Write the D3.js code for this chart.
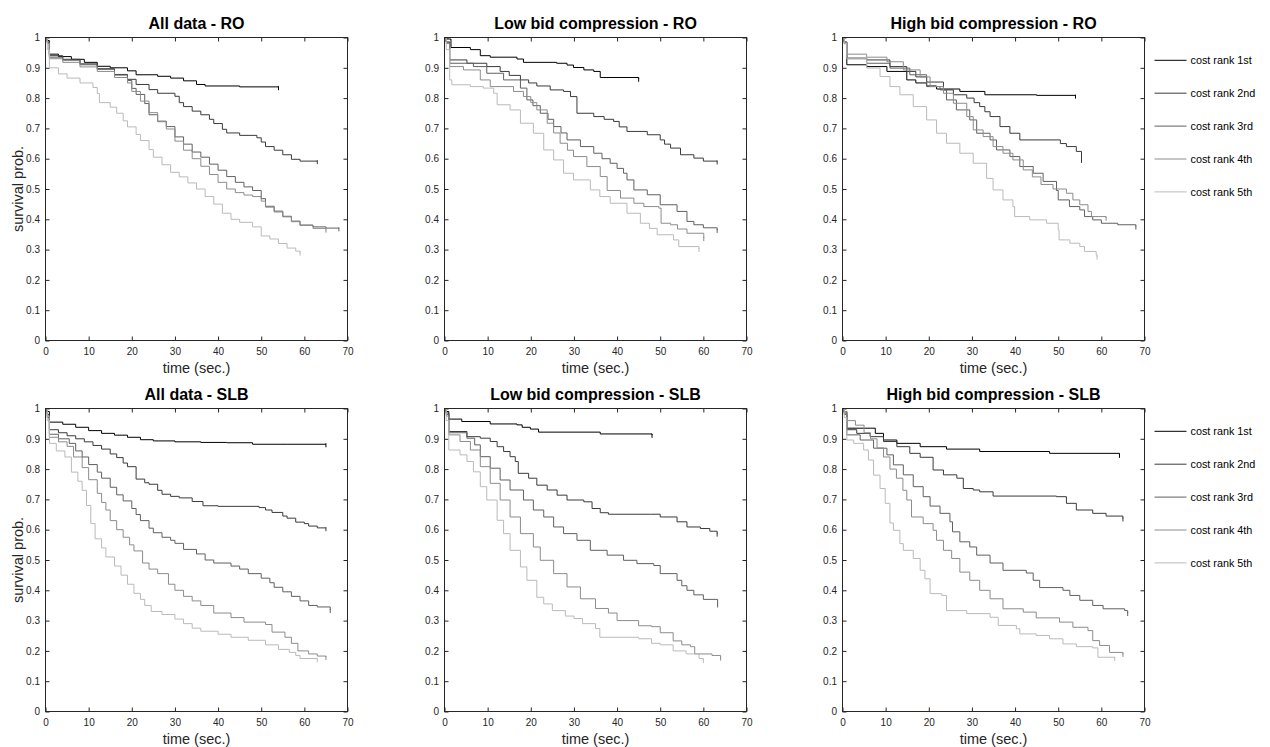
<!DOCTYPE html>
<html>
<head>
<meta charset="utf-8">
<script src="https://cdn.jsdelivr.net/npm/d3@7"></script>
<style>
    body { margin: 0; background: #fff; }
    svg { display: block; }
    text { font-family: "Liberation Sans", Arial, Helvetica, sans-serif; }
</style>
</head>
<body>
<div id="chart"></div>
<script>

// panel titles, legend labels and grey levels of the five cost ranks
const panelTitles = ["All data - RO", "Low bid compression - RO", "High bid compression - RO",
                     "All data - SLB", "Low bid compression - SLB", "High bid compression - SLB"];
const rankLabels = ["cost rank 1st", "cost rank 2nd", "cost rank 3rd", "cost rank 4th", "cost rank 5th"];
const rankColors = ["#000000", "#3a3a3a", "#606060", "#8c8c8c", "#bababa"];

const xTicks = [0, 10, 20, 30, 40, 50, 60, 70];
const yTicks = [0, 0.1, 0.2, 0.3, 0.4, 0.5, 0.6, 0.7, 0.8, 0.9, 1];

// Kaplan-Meier curves, [time, survival] at each step
const allDataRO = [
    [[0,1],[0.4,0.99],[0.9,0.945],[3,0.937],[6,0.928],[9,0.918],[12,0.905],[15,0.9],[19,0.89],[21,0.877],[26,0.872],[29,0.866],[32,0.857],[35,0.845],[37,0.84],[45,0.837],[54,0.836]],
    [[0,1],[0.4,0.985],[0.9,0.94],[4,0.928],[8,0.913],[12,0.897],[16,0.878],[19,0.862],[21,0.845],[24,0.828],[26,0.816],[30,0.806],[31,0.785],[32,0.772],[34,0.757],[36,0.745],[38,0.73],[39,0.716],[41,0.697],[42,0.685],[45,0.677],[49,0.669],[50,0.655],[51,0.64],[53,0.628],[55,0.613],[57,0.598],[59,0.592],[63,0.592]],
    [[0,1],[0.4,0.985],[0.9,0.935],[4,0.925],[8,0.91],[12,0.895],[16,0.876],[19,0.858],[20,0.832],[21,0.812],[23,0.782],[24,0.745],[26,0.724],[28,0.706],[30,0.672],[32,0.648],[34,0.622],[36,0.605],[38,0.582],[40,0.562],[42,0.541],[44,0.522],[46,0.507],[48,0.495],[50,0.468],[51,0.443],[53,0.427],[55,0.41],[57,0.394],[59,0.381],[62,0.375],[65,0.371],[68,0.37]],
    [[0,1],[0.4,0.98],[0.9,0.93],[4,0.918],[8,0.903],[12,0.888],[16,0.868],[19,0.85],[20,0.822],[22,0.79],[24,0.752],[26,0.722],[28,0.698],[30,0.658],[32,0.628],[34,0.6],[36,0.575],[38,0.548],[40,0.522],[42,0.5],[44,0.488],[46,0.48],[48,0.475],[50,0.46],[51,0.44],[53,0.424],[55,0.408],[57,0.392],[59,0.38],[62,0.37],[65,0.366]],
    [[0,1],[0.4,0.96],[0.9,0.9],[3,0.88],[5,0.866],[8,0.85],[11,0.835],[12,0.815],[12.5,0.785],[15,0.77],[16.5,0.75],[18,0.725],[19,0.705],[21,0.68],[22,0.66],[24,0.63],[25,0.605],[27,0.58],[29,0.555],[31,0.54],[33,0.52],[35,0.5],[37,0.475],[39,0.45],[41,0.42],[43,0.4],[45,0.39],[48,0.375],[50,0.345],[52,0.335],[54,0.32],[56,0.305],[58,0.295],[59,0.29]]
];

const lowBidRO = [
    [[0,1],[0.4,0.995],[1.5,0.967],[6,0.96],[8.3,0.94],[10.6,0.935],[16.8,0.929],[18.3,0.918],[26,0.915],[28.4,0.909],[29.9,0.901],[32.3,0.893],[34.6,0.888],[36.1,0.868],[45,0.864]],
    [[0,1],[0.4,0.985],[1.2,0.926],[5.2,0.915],[9.8,0.904],[12.9,0.888],[15,0.875],[17.6,0.86],[19.5,0.85],[21.4,0.84],[24.5,0.827],[27.6,0.822],[29.2,0.805],[30.7,0.75],[34.6,0.739],[37,0.73],[39.2,0.723],[40.5,0.705],[42.3,0.69],[47,0.679],[50,0.662],[51,0.648],[52.4,0.635],[54.7,0.613],[57.8,0.602],[60,0.592],[63.2,0.591]],
    [[0,1],[0.4,0.985],[1.2,0.915],[6.7,0.904],[9.8,0.882],[13.7,0.86],[17.6,0.833],[19.1,0.794],[20.5,0.775],[22.2,0.75],[24,0.73],[25.3,0.706],[27,0.685],[28.4,0.662],[31.5,0.64],[34.6,0.618],[36.5,0.6],[38.4,0.585],[40,0.568],[41.5,0.552],[42.3,0.53],[43.9,0.497],[47,0.481],[50,0.448],[53.9,0.426],[56.2,0.393],[57.8,0.382],[60,0.372],[63.2,0.365]],
    [[0,1],[0.4,0.98],[1.2,0.904],[4.4,0.893],[8.3,0.86],[10.6,0.838],[16,0.822],[18.3,0.805],[20,0.785],[21.4,0.761],[23.8,0.717],[25.3,0.685],[26.8,0.651],[28.5,0.628],[29.9,0.607],[33,0.574],[36.1,0.541],[37.7,0.495],[40.8,0.47],[43.9,0.453],[46.2,0.442],[49.7,0.437],[50.2,0.387],[52.4,0.382],[54,0.368],[56.2,0.354],[60.1,0.338]],
    [[0,1],[0.4,0.96],[1.2,0.86],[1.7,0.844],[6,0.838],[9,0.833],[11.4,0.816],[12.2,0.778],[15.2,0.761],[17.6,0.717],[20.6,0.684],[23,0.629],[25.3,0.596],[27.6,0.552],[29.9,0.53],[33.8,0.497],[36,0.475],[38.4,0.453],[42.3,0.42],[45.4,0.387],[47.5,0.37],[49.3,0.349],[53.1,0.332],[54.3,0.31],[59,0.302]]
];

const highBidRO = [
    [[0,1],[0.4,0.98],[1,0.91],[5.6,0.904],[10.3,0.888],[14.9,0.86],[17,0.85],[19.5,0.84],[21.8,0.83],[27.2,0.822],[33,0.811],[45,0.809],[54,0.808]],
    [[0,1],[0.4,0.985],[1,0.932],[5.6,0.926],[11,0.904],[14.9,0.888],[17,0.87],[19.5,0.853],[23.4,0.827],[25.7,0.811],[28.8,0.8],[30.5,0.785],[31.8,0.772],[33,0.755],[34.2,0.739],[36.5,0.706],[38.8,0.684],[41.1,0.662],[48.8,0.662],[50.5,0.65],[51.9,0.64],[54.2,0.624],[55.4,0.596]],
    [[0,1],[0.4,0.985],[1,0.93],[5.6,0.915],[11,0.899],[15.6,0.877],[19.5,0.838],[22.6,0.827],[24.1,0.794],[26.4,0.761],[29.5,0.728],[31.1,0.684],[34.2,0.662],[35.7,0.629],[38.8,0.607],[41.1,0.574],[44.2,0.552],[46.5,0.525],[49.6,0.495],[50,0.464],[52.6,0.442],[55,0.431],[56.1,0.409],[58,0.398],[60,0.387],[63.8,0.382],[68,0.376]],
    [[0,1],[0.4,0.985],[1,0.945],[5.6,0.935],[10.3,0.92],[14.1,0.893],[18,0.87],[20.3,0.838],[23.4,0.816],[25.7,0.783],[28.8,0.739],[30.3,0.695],[32.6,0.673],[34.9,0.64],[37.2,0.618],[39.5,0.596],[41.9,0.563],[44,0.54],[46,0.515],[48.8,0.5],[51.9,0.486],[53.4,0.464],[55,0.448],[56.9,0.426],[57.7,0.409],[61.1,0.405]],
    [[0,1],[0.4,0.98],[1,0.93],[5.6,0.899],[8.7,0.871],[11,0.838],[13.3,0.811],[16.4,0.772],[19.5,0.728],[21.8,0.684],[24.1,0.651],[27.2,0.618],[30.3,0.585],[33.4,0.535],[34.9,0.497],[37.2,0.464],[39.5,0.442],[39.9,0.409],[43.4,0.398],[47.3,0.387],[50,0.365],[50.2,0.332],[52.7,0.321],[55,0.31],[56.1,0.294],[58.8,0.283],[59,0.277]]
];

const allDataSLB = [
    [[0,1],[0.4,0.99],[0.9,0.955],[4,0.948],[7,0.938],[10,0.927],[13,0.918],[16,0.912],[19,0.905],[22,0.897],[25,0.893],[30,0.89],[36,0.888],[42,0.887],[48,0.882],[56,0.882],[65,0.882]],
    [[0,1],[0.4,0.98],[0.9,0.93],[3,0.92],[5,0.91],[7,0.9],[9,0.89],[11,0.878],[13,0.866],[15,0.85],[16.5,0.838],[18,0.82],[19,0.808],[21,0.767],[23,0.755],[24,0.75],[26,0.73],[27,0.717],[29,0.71],[31,0.705],[34,0.693],[36.5,0.679],[40,0.677],[49.5,0.673],[51,0.665],[52.5,0.657],[55,0.645],[56,0.638],[58,0.625],[60,0.62],[61,0.612],[63,0.606],[65,0.605]],
    [[0,1],[0.4,0.97],[0.9,0.915],[3,0.9],[5.5,0.885],[7,0.86],[8.5,0.84],[10,0.815],[12,0.79],[13,0.77],[15,0.74],[16.5,0.715],[18,0.695],[20,0.67],[21,0.65],[22,0.63],[24,0.605],[25,0.59],[27,0.575],[29,0.565],[30,0.555],[32,0.535],[35,0.52],[37,0.5],[39,0.49],[43,0.48],[45,0.47],[47,0.455],[50,0.44],[52,0.425],[53,0.41],[55,0.395],[57,0.38],[59,0.365],[61,0.35],[63,0.345],[66,0.335]],
    [[0,1],[0.4,0.975],[0.9,0.905],[3,0.89],[5,0.875],[6.5,0.84],[8.5,0.805],[10,0.765],[12,0.72],[13,0.69],[14,0.665],[15,0.63],[16.5,0.6],[18,0.575],[19.5,0.55],[20.5,0.53],[22.5,0.49],[24,0.47],[26,0.455],[28.5,0.42],[30,0.4],[32,0.38],[34,0.365],[36,0.35],[39,0.325],[43,0.31],[46,0.295],[51,0.287],[52.5,0.262],[55.5,0.245],[57,0.225],[58.5,0.2],[61,0.19],[63,0.183],[65,0.18]],
    [[0,1],[0.4,0.96],[0.9,0.885],[2.5,0.86],[4.5,0.84],[6,0.79],[7.5,0.76],[8.5,0.73],[9.5,0.68],[10.5,0.62],[11.5,0.57],[13,0.54],[14,0.51],[16,0.48],[17.5,0.45],[19,0.42],[20.5,0.39],[22,0.37],[23,0.35],[24.5,0.33],[27,0.32],[30,0.305],[32,0.29],[34,0.275],[36,0.265],[40,0.255],[43,0.245],[47,0.235],[51,0.22],[54,0.205],[56.5,0.195],[58,0.185],[59,0.175],[63,0.172]]
];

const lowBidSLB = [
    [[0,1],[0.4,0.99],[1,0.965],[4,0.957],[10.6,0.949],[16.8,0.946],[18,0.938],[19.9,0.932],[21.8,0.922],[36.1,0.916],[48.1,0.913]],
    [[0,1],[0.4,0.985],[1,0.924],[5.2,0.907],[8.3,0.902],[10.6,0.891],[12.2,0.874],[13.7,0.858],[15.2,0.841],[16.4,0.825],[17.1,0.786],[19.5,0.77],[21.4,0.747],[23.8,0.731],[26.1,0.714],[28.4,0.698],[32.3,0.692],[34.2,0.67],[36.1,0.656],[38,0.651],[47.7,0.651],[50,0.642],[53.9,0.626],[56.2,0.609],[59.3,0.604],[61.5,0.595],[63.2,0.587]],
    [[0,1],[0.4,0.98],[1,0.92],[5.2,0.902],[7,0.88],[8.3,0.841],[10.6,0.803],[12.9,0.764],[15.2,0.731],[18.3,0.698],[20.6,0.665],[23,0.642],[25.3,0.609],[27.6,0.587],[30.7,0.565],[33.8,0.532],[37.7,0.516],[41.5,0.499],[44.6,0.488],[48.5,0.482],[50,0.455],[53.9,0.433],[55,0.415],[56.2,0.4],[57.8,0.385],[60,0.37],[63.3,0.353]],
    [[0,1],[0.4,0.975],[1,0.913],[3.6,0.891],[6,0.863],[8.3,0.808],[10.6,0.753],[12.9,0.698],[15.2,0.642],[17.6,0.587],[20.6,0.543],[22.2,0.499],[25.3,0.455],[28.4,0.411],[31.5,0.372],[35,0.34],[38,0.325],[40,0.3],[45,0.283],[48,0.28],[50,0.26],[53,0.233],[55,0.22],[57,0.214],[58,0.19],[62,0.185],[64,0.178]],
    [[0,1],[0.4,0.96],[1,0.863],[3.6,0.847],[5.2,0.825],[6.7,0.791],[8.3,0.742],[9.8,0.698],[12.2,0.631],[13.7,0.587],[15.2,0.532],[17.6,0.477],[19.1,0.433],[21.4,0.377],[23,0.355],[25,0.333],[28,0.315],[30,0.307],[32,0.29],[35,0.274],[36,0.245],[45,0.24],[48,0.225],[50,0.22],[53,0.2],[56,0.19],[59,0.175],[60,0.17]]
];

const highBidSLB = [
    [[0,1],[0.4,0.99],[1,0.935],[6.4,0.935],[7.6,0.918],[9.5,0.896],[12.6,0.885],[18,0.874],[24.1,0.866],[31.8,0.858],[48,0.852],[64.2,0.847]],
    [[0,1],[0.4,0.985],[1,0.93],[3.3,0.918],[6.4,0.907],[9.5,0.891],[12.6,0.874],[15.6,0.852],[18,0.839],[21,0.797],[23.4,0.781],[26.5,0.77],[28,0.736],[30.3,0.731],[31.8,0.725],[34.9,0.711],[49.6,0.709],[51.9,0.687],[54.2,0.665],[58,0.654],[61.1,0.645],[65,0.637]],
    [[0,1],[0.4,0.98],[1,0.913],[4.1,0.896],[7.2,0.869],[10.3,0.847],[11.8,0.814],[14.1,0.781],[16.4,0.742],[18.7,0.709],[20.3,0.678],[22.6,0.654],[24.9,0.626],[25.5,0.593],[27.2,0.56],[29.5,0.543],[31.1,0.516],[34.2,0.49],[37.2,0.466],[42.6,0.457],[44.2,0.433],[45.7,0.409],[51.1,0.4],[52.7,0.383],[55,0.367],[58,0.35],[60.4,0.339],[65.4,0.333],[66.1,0.325]],
    [[0,1],[0.4,0.99],[1,0.96],[3,0.945],[5,0.92],[6.5,0.9],[8,0.87],[9.5,0.84],[11,0.8],[12.5,0.77],[14,0.73],[14.9,0.698],[16,0.642],[18.7,0.62],[21,0.598],[21.8,0.565],[23.4,0.532],[25.3,0.505],[27.2,0.46],[29.5,0.433],[31.8,0.4],[34.2,0.372],[37.2,0.339],[41.9,0.328],[44.9,0.309],[50.3,0.295],[53.4,0.278],[56.9,0.267],[58,0.234],[59.6,0.218],[61.9,0.195],[65,0.19]],
    [[0,1],[0.4,0.97],[1,0.896],[2.6,0.885],[4.9,0.863],[6,0.83],[7.2,0.78],[8.7,0.736],[9.9,0.687],[11,0.622],[11.8,0.598],[13.3,0.554],[14.1,0.532],[16.4,0.505],[18,0.466],[19.1,0.438],[20.3,0.389],[23,0.383],[24.1,0.333],[28.8,0.323],[34.2,0.311],[36.1,0.284],[40.3,0.273],[41.1,0.256],[44.9,0.251],[48,0.24],[51.1,0.223],[54.2,0.214],[58,0.21],[59.2,0.179],[63.1,0.177]]
];

const panelData = [allDataRO, lowBidRO, highBidRO, allDataSLB, lowBidSLB, highBidSLB];

// layout
const width = 1270, height = 747;
const colLeft = [45.5, 444.5, 842.5];
const rowTop = [37.5, 408.5];
const panelW = 302, panelH = 303;
const axisColor = "#262626";

const svg = d3.select("#chart").append("svg")
    .attr("width", width)
    .attr("height", height);

const x = d3.scaleLinear().domain([0, 70]).range([0, panelW]);
const y = d3.scaleLinear().domain([0, 1]).range([panelH, 0]);

const line = d3.line()
    .x(d => x(d[0]))
    .y(d => y(d[1]))
    .curve(d3.curveStepAfter);

panelData.forEach((series, i) => {
    let row = Math.floor(i / 3), col = i % 3;

    let g = svg.append("g")
        .attr("transform", `translate(${colLeft[col]},${rowTop[row]})`);

    // axes, ticks pointing inwards on all four sides
    let styleAxis = sel => {
        sel.select(".domain").remove();
        sel.selectAll(".tick line").attr("stroke", axisColor);
        sel.selectAll(".tick text").attr("fill", axisColor).style("font-size", "10px")
            .style("font-family", '"Liberation Sans", Arial, sans-serif');
    };

    g.append("g")
        .attr("transform", `translate(0,${panelH})`)
        .call(d3.axisBottom(x).tickValues(xTicks).tickSizeInner(-4).tickSizeOuter(0).tickPadding(7))
        .call(styleAxis);
    g.append("g")
        .call(d3.axisTop(x).tickValues(xTicks).tickSizeInner(-4).tickSizeOuter(0).tickFormat(""))
        .call(styleAxis);
    g.append("g")
        .call(d3.axisLeft(y).tickValues(yTicks).tickSizeInner(-4).tickSizeOuter(0).tickPadding(5.5).tickFormat(d3.format("~g")))
        .call(styleAxis);
    g.append("g")
        .attr("transform", `translate(${panelW},0)`)
        .call(d3.axisRight(y).tickValues(yTicks).tickSizeInner(-4).tickSizeOuter(0).tickFormat(""))
        .call(styleAxis);

    // survival curves
    series.forEach((pts, r) => {
        g.append("path")
            .datum(pts)
            .attr("d", line)
            .attr("fill", "none")
            .attr("stroke", rankColors[r])
            .attr("stroke-width", 1);

        // censoring tick at the end of the curve
        let last = pts[pts.length - 1];
        g.append("line")
            .attr("x1", x(last[0])).attr("x2", x(last[0]))
            .attr("y1", y(last[1]) - 1).attr("y2", y(last[1]) + 3)
            .attr("stroke", rankColors[r])
            .attr("stroke-width", 1);
    });

    // box
    g.append("rect")
        .attr("width", panelW)
        .attr("height", panelH)
        .attr("fill", "none")
        .attr("stroke", axisColor)
        .attr("stroke-width", 1);

    // title and labels
    g.append("text")
        .attr("x", panelW / 2)
        .attr("y", -8.5)
        .attr("text-anchor", "middle")
        .style("font-size", "16px")
        .style("font-weight", "bold")
        .attr("fill", "#000")
        .text(panelTitles[i]);

    g.append("text")
        .attr("x", panelW / 2)
        .attr("y", panelH + 32)
        .attr("text-anchor", "middle")
        .style("font-size", "14.5px")
        .attr("fill", axisColor)
        .text("time (sec.)");

    if (col === 0) {
        g.append("text")
            .attr("transform", `translate(-23,${panelH / 2}) rotate(-90)`)
            .attr("text-anchor", "middle")
            .style("font-size", "14.5px")
            .attr("fill", axisColor)
            .text("survival prob.");
    }

    // legend beside the right-hand panel of each row
    if (col === 2) {
        let legend = g.append("g")
            .attr("transform", `translate(${panelW + 10},0)`);

        rankLabels.forEach((lab, r) => {
            let ly = 22.8 + r * 32.9;
            legend.append("line")
                .attr("x1", 0).attr("x2", 32)
                .attr("y1", ly).attr("y2", ly)
                .attr("stroke", rankColors[r])
                .attr("stroke-width", 1);
            legend.append("text")
                .attr("x", 36)
                .attr("y", ly)
                .attr("dy", "0.35em")
                .style("font-size", "10.8px")
                .attr("fill", "#000")
                .text(lab);
        });
    }
});

</script>
</body>
</html>
